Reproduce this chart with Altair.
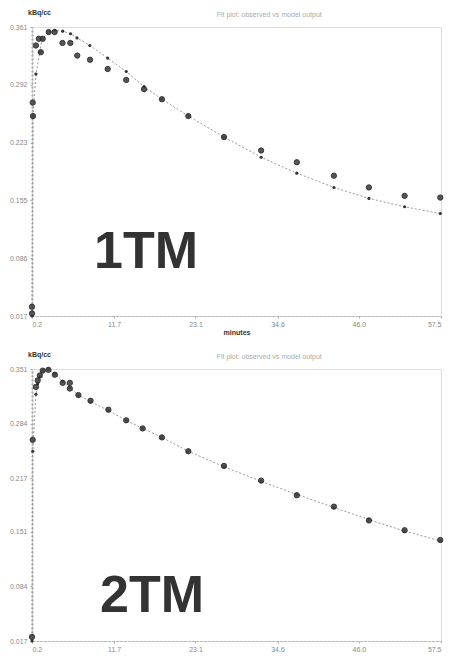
import altair as alt
import pandas as pd

# ---- data ----
x_ticks = [0.2, 11.7, 23.1, 34.6, 46.0, 57.5]
y_ticks_1 = [0.017, 0.086, 0.155, 0.223, 0.292, 0.361]
y_ticks_2 = [0.017, 0.084, 0.151, 0.217, 0.284, 0.351]

obs1_t = [0.2, 0.2, 0.3, 0.34, 0.75, 1.16, 1.44, 1.7, 2.54, 3.37, 4.47, 5.57, 6.54, 8.33, 10.8,
          13.4, 15.9, 18.4, 22.1, 27.1, 32.3, 37.3, 42.5, 47.4, 52.4, 57.4]
obs1_v = [0.020, 0.028, 0.271, 0.255, 0.339, 0.347, 0.331, 0.347, 0.355, 0.355, 0.342, 0.342, 0.327,
          0.322, 0.311, 0.298, 0.287, 0.275, 0.255, 0.230, 0.214, 0.200, 0.184, 0.170, 0.160, 0.158]
fit1_t = [0.2, 0.34, 0.75, 1.3, 1.6, 2.5, 3.4, 4.5, 5.6, 6.5, 8.3, 10.8, 13.4, 15.9, 18.4, 22.1,
          27.1, 32.3, 37.3, 42.5, 47.4, 52.4, 57.4]
fit1_v = [0.017, 0.255, 0.305, 0.331, 0.347, 0.355, 0.357, 0.356, 0.353, 0.348, 0.339, 0.324, 0.308,
          0.290, 0.275, 0.255, 0.230, 0.206, 0.187, 0.170, 0.157, 0.147, 0.139]

obs2_t = [0.2, 0.3, 0.75, 1.0, 1.3, 1.7, 2.5, 3.4, 4.5, 5.5, 5.5, 6.7, 8.4, 10.9, 13.4, 15.7, 18.4,
          22.1, 27.1, 32.3, 37.3, 42.5, 47.4, 52.4, 57.4]
obs2_v = [0.022, 0.264, 0.329, 0.337, 0.343, 0.349, 0.350, 0.344, 0.334, 0.334, 0.327, 0.319, 0.312,
          0.301, 0.288, 0.278, 0.267, 0.250, 0.232, 0.214, 0.196, 0.182, 0.165, 0.153, 0.141]
fit2_t = [0.2, 0.3, 0.75, 1.0, 1.3, 1.7, 2.5, 3.4, 4.5, 5.5, 6.7, 8.4, 10.9, 13.4, 15.7, 18.4, 22.1,
          27.1, 32.3, 37.3, 42.5, 47.4, 52.4, 57.4]
fit2_v = [0.017, 0.250, 0.320, 0.333, 0.342, 0.349, 0.351, 0.345, 0.336, 0.328, 0.319, 0.311, 0.300,
          0.288, 0.278, 0.267, 0.250, 0.231, 0.213, 0.197, 0.181, 0.166, 0.152, 0.140]

chart_title = "Fit plot: observed vs model output"
y_title = "kBq/cc"
x_title = "minutes"


def panel(obs_t, obs_v, fit_t, fit_v, yticks, label, xtitle, w, h, lx, ly):
    obs = pd.DataFrame({"t": obs_t, "v": obs_v})
    fit = pd.DataFrame({"t": fit_t, "v": fit_v})
    xs = alt.Scale(domain=[x_ticks[0], x_ticks[-1]], nice=False, zero=False)
    ys = alt.Scale(domain=[yticks[0], yticks[-1]], nice=False, zero=False)
    xkw = dict(values=x_ticks, format=".1f", grid=False, labelFlush=True,
               labelFontSize=7, labelColor="#888", titleFontSize=7, titleColor="#333",
               titlePadding=1, tickSize=2, labelPadding=2, domainDash=[2, 2],
               domainColor="#aaa", tickColor="#aaa")
    xax = alt.Axis(title=xtitle, **xkw) if xtitle else alt.Axis(title=None, **xkw)
    yax = alt.Axis(values=yticks, format=".3f", title=None, grid=False,
                   labelFontSize=7, labelColor="#888", tickSize=2, labelPadding=3,
                   domainDash=[2, 2], domainWidth=2, domainColor="#aaa", tickColor="#aaa")
    line = alt.Chart(fit).mark_line(color="#999", strokeDash=[2, 2], strokeWidth=1).encode(
        x=alt.X("t:Q", scale=xs, axis=xax), y=alt.Y("v:Q", scale=ys, axis=yax))
    fitpts = alt.Chart(fit).mark_circle(color="#333", size=10, opacity=1).encode(
        x=alt.X("t:Q", scale=xs), y=alt.Y("v:Q", scale=ys))
    pts = alt.Chart(obs).mark_point(color="#444", size=28, filled=True, opacity=0.9,
                                    stroke="#222", strokeWidth=1).encode(
        x=alt.X("t:Q", scale=xs), y=alt.Y("v:Q", scale=ys))
    txt = alt.Chart(pd.DataFrame({"s": [label]})).mark_text(
        fontSize=52, fontWeight="bold", font="Liberation Sans", color="#333",
        align="center", baseline="alphabetic").encode(
        text="s:N", x=alt.value(lx), y=alt.value(ly))
    ytit = alt.Chart(pd.DataFrame({"s": [y_title]})).mark_text(
        fontSize=7, fontWeight="bold", color="#333", align="left", baseline="alphabetic").encode(
        text="s:N", x=alt.value(-4), y=alt.value(-12))
    ttl = alt.Chart(pd.DataFrame({"s": [chart_title]})).mark_text(
        fontSize=7, color="#aaa", align="center", baseline="alphabetic").encode(
        text="s:N", x=alt.value(w * 0.58), y=alt.value(-10))
    return alt.layer(line, fitpts, pts, txt, ytit, ttl).properties(width=w, height=h)


top = panel(obs1_t, obs1_v, fit1_t, fit1_v, y_ticks_1, "1TM", x_title, 409, 289, 114, 241)
bottom = panel(obs2_t, obs2_v, fit2_t, fit2_v, y_ticks_2, "2TM", None, 409, 272, 120, 243)

chart = alt.vconcat(top, bottom, spacing=14, padding=0).configure_view(
    stroke="#bbb", strokeDash=[2, 2], strokeWidth=1
).configure(background="white", font="Liberation Sans")

chart.save("out.html", embed_options={"renderer": "svg", "actions": False})
